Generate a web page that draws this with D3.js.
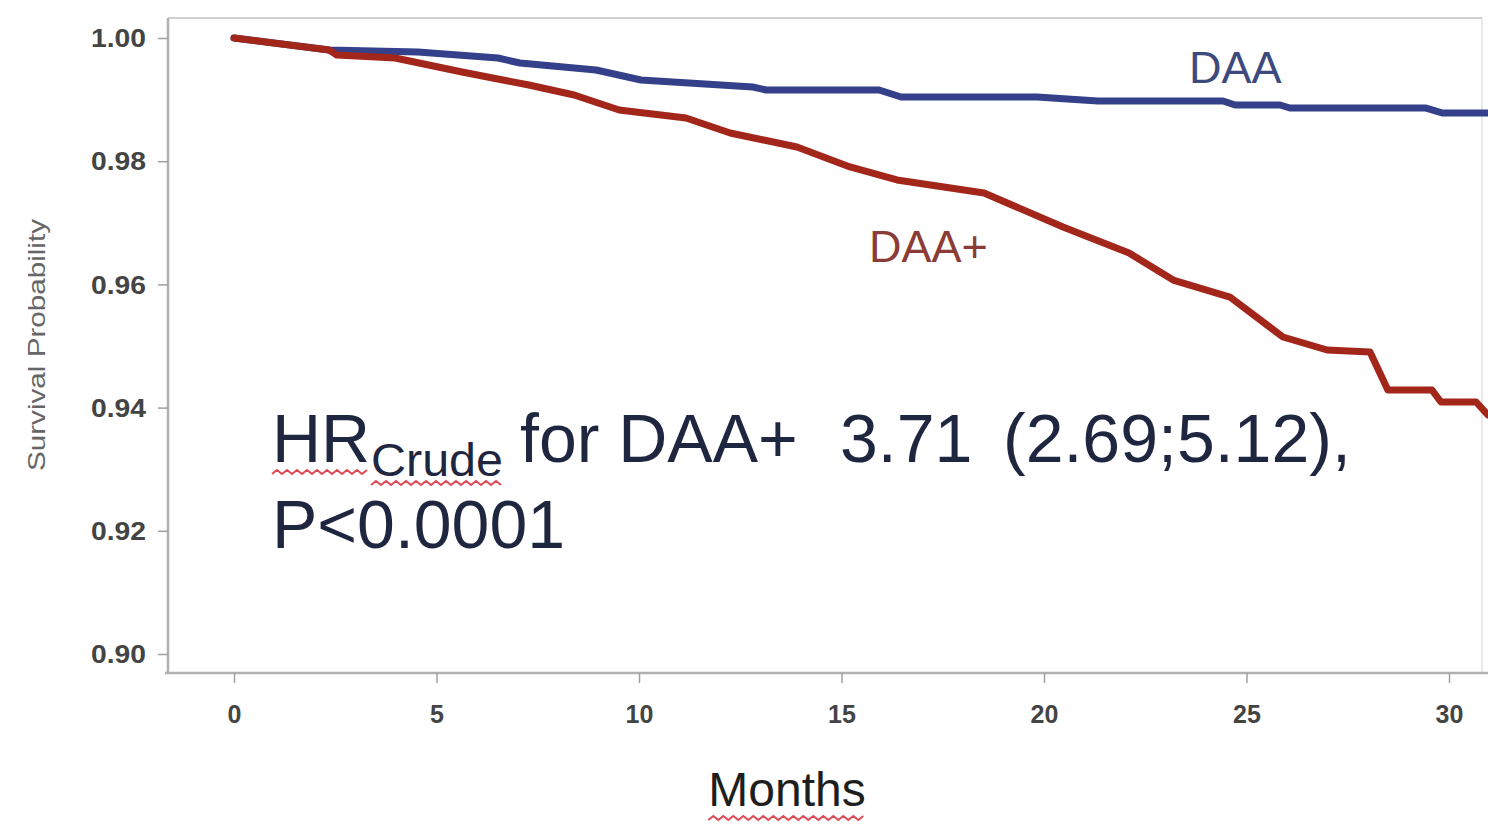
<!DOCTYPE html>
<html>
<head>
<meta charset="utf-8">
<script src="https://cdn.jsdelivr.net/npm/d3@7"></script>
<style>
  html, body { margin: 0; padding: 0; background: #fff; }
  svg { display: block; font-family: "Liberation Sans", Arial, sans-serif; }
</style>
</head>
<body>
<svg id="chart" width="1488" height="829"></svg>
<script>
// Kaplan-Meier survival estimates (months, survival probability)
const daaMonths  = [0, 2.35, 4.54, 6.52, 7.06, 8.94, 10.05, 12.81, 13.14, 15.93, 16.47, 19.83, 21.33, 24.42, 24.72, 25.83, 26.07, 29.41, 29.85, 31.01];
const daaSurv    = [1.0, 0.99805, 0.99773, 0.99675, 0.99594, 0.99481, 0.99318, 0.99205, 0.99156, 0.99156, 0.99042, 0.99042, 0.98977, 0.98977, 0.98912, 0.98912, 0.98864, 0.98864, 0.98782, 0.98782];
const daaPlusMonths = [0, 2.35, 2.54, 3.98, 5.63, 7.28, 8.40, 9.51, 11.16, 12.25, 13.90, 15.21, 16.37, 18.52, 20.47, 22.10, 23.19, 24.59, 25.90, 26.99, 28.05, 28.49, 29.58, 29.80, 30.67, 30.96];
const daaPlusSurv   = [1.0, 0.99805, 0.99724, 0.99675, 0.99448, 0.99237, 0.99075, 0.98831, 0.98701, 0.98458, 0.98231, 0.97906, 0.97695, 0.97484, 0.96933, 0.96510, 0.96071, 0.95795, 0.95146, 0.94935, 0.94903, 0.94286, 0.94286, 0.94091, 0.94091, 0.93880];

const xTicks = [0, 5, 10, 15, 20, 25, 30];
const yTicks = [0.90, 0.92, 0.94, 0.96, 0.98, 1.00];

const svg = d3.select("#chart");

const x = d3.scaleLinear().domain([0, 30]).range([234, 1449]);
const y = d3.scaleLinear().domain([0.90, 1.00]).range([654, 38]);

const frame = { left: 168, top: 18, right: 1482, bottom: 673 };

// light frame on top and right
svg.append("line").attr("x1", frame.left).attr("x2", frame.right)
  .attr("y1", frame.top).attr("y2", frame.top)
  .attr("stroke", "#d0d0d0").attr("stroke-width", 2);
svg.append("line").attr("x1", frame.right).attr("x2", frame.right)
  .attr("y1", frame.top).attr("y2", frame.bottom)
  .attr("stroke", "#e0e0e0").attr("stroke-width", 1.5);

// y axis
const yAxis = svg.append("g")
  .attr("transform", `translate(${frame.left},0)`)
  .call(d3.axisLeft(y).tickValues(yTicks).tickFormat(d3.format(".2f")).tickSize(10).tickPadding(12));
yAxis.select(".domain").attr("d", `M0,${frame.top}V${frame.bottom}`)
  .attr("stroke", "#b0b0b0").attr("stroke-width", 2.5);
yAxis.selectAll(".tick line").attr("stroke", "#a0a0a0").attr("stroke-width", 1.5);
yAxis.selectAll(".tick text").attr("font-size", 25).attr("fill", "#444")
  .attr("font-weight", "bold").attr("dy", "0.35em")
  .attr("textLength", 55).attr("lengthAdjust", "spacingAndGlyphs");

// x axis
const xAxis = svg.append("g")
  .attr("transform", `translate(0,${frame.bottom})`)
  .call(d3.axisBottom(x).tickValues(xTicks).tickSize(10).tickPadding(22));
xAxis.select(".domain").attr("d", `M${frame.left - 3},0H1488`)
  .attr("stroke", "#b0b0b0").attr("stroke-width", 2.5);
xAxis.selectAll(".tick line").attr("stroke", "#a0a0a0").attr("stroke-width", 1.5);
xAxis.selectAll(".tick text").attr("font-size", 25).attr("fill", "#444")
  .attr("font-weight", "bold");

// axis titles
svg.append("text")
  .attr("transform", "translate(45,345) rotate(-90)")
  .attr("text-anchor", "middle")
  .attr("font-size", 24).attr("fill", "#666")
  .attr("textLength", 252).attr("lengthAdjust", "spacingAndGlyphs")
  .text("Survival Probability");

const monthsLabel = svg.append("text")
  .attr("x", 787).attr("y", 806)
  .attr("text-anchor", "middle")
  .attr("font-size", 48).attr("fill", "#1e1e1e")
  .text("Months");

// survival curves
const line = d3.line().x(d => x(d[0])).y(d => y(d[1]));
const daa = d3.zip(daaMonths, daaSurv);
const daaPlus = d3.zip(daaPlusMonths, daaPlusSurv);

svg.append("path").datum(daa)
  .attr("d", line).attr("fill", "none")
  .attr("stroke", "#34408a").attr("stroke-width", 7)
  .attr("stroke-linejoin", "round").attr("stroke-linecap", "round");
svg.append("path").datum(daaPlus)
  .attr("d", line).attr("fill", "none")
  .attr("stroke", "#a3261b").attr("stroke-width", 7)
  .attr("stroke-linejoin", "round").attr("stroke-linecap", "round");

// curve labels
svg.append("text").attr("x", 1189).attr("y", 83)
  .attr("font-size", 45).attr("fill", "#3d4a7d").text("DAA");
svg.append("text").attr("x", 869).attr("y", 262)
  .attr("font-size", 45).attr("fill", "#8b3c37").text("DAA+");

// hazard ratio annotation
const noteColor = "#1f2640";
const hr = svg.append("text").attr("x", 272).attr("y", 462)
  .attr("font-size", 68).attr("fill", noteColor).text("HR");
const crude = svg.append("text").attr("x", 371).attr("y", 476)
  .attr("font-size", 46).attr("fill", noteColor)
  .attr("textLength", 132).attr("lengthAdjust", "spacingAndGlyphs").text("Crude");
svg.append("text").attr("x", 520).attr("y", 462)
  .attr("font-size", 68).attr("fill", noteColor).text("for DAA+");
svg.append("text").attr("x", 840).attr("y", 462)
  .attr("font-size", 68).attr("fill", noteColor).text("3.71");
svg.append("text").attr("x", 1003).attr("y", 462)
  .attr("font-size", 68).attr("fill", noteColor).text("(2.69;5.12),");
svg.append("text").attr("x", 272).attr("y", 548)
  .attr("font-size", 68).attr("fill", noteColor).text("P<0.0001");

// red wavy proofing underlines beneath words
function squiggle(textSel, offset) {
  const b = textSel.node().getBBox();
  const yBase = +textSel.attr("y") + offset;
  const step = 5;
  let d = `M${b.x},${yBase}`;
  let k = 0;
  for (let px = b.x + step; px <= b.x + b.width; px += step, k++) {
    d += `L${px},${yBase + (k % 2 === 0 ? -4 : 0)}`;
  }
  svg.append("path").attr("d", d).attr("fill", "none")
    .attr("stroke", "#dd4a55").attr("stroke-width", 2);
}
squiggle(hr, 12);
squiggle(crude, 9);
squiggle(monthsLabel, 14);
</script>
</body>
</html>
